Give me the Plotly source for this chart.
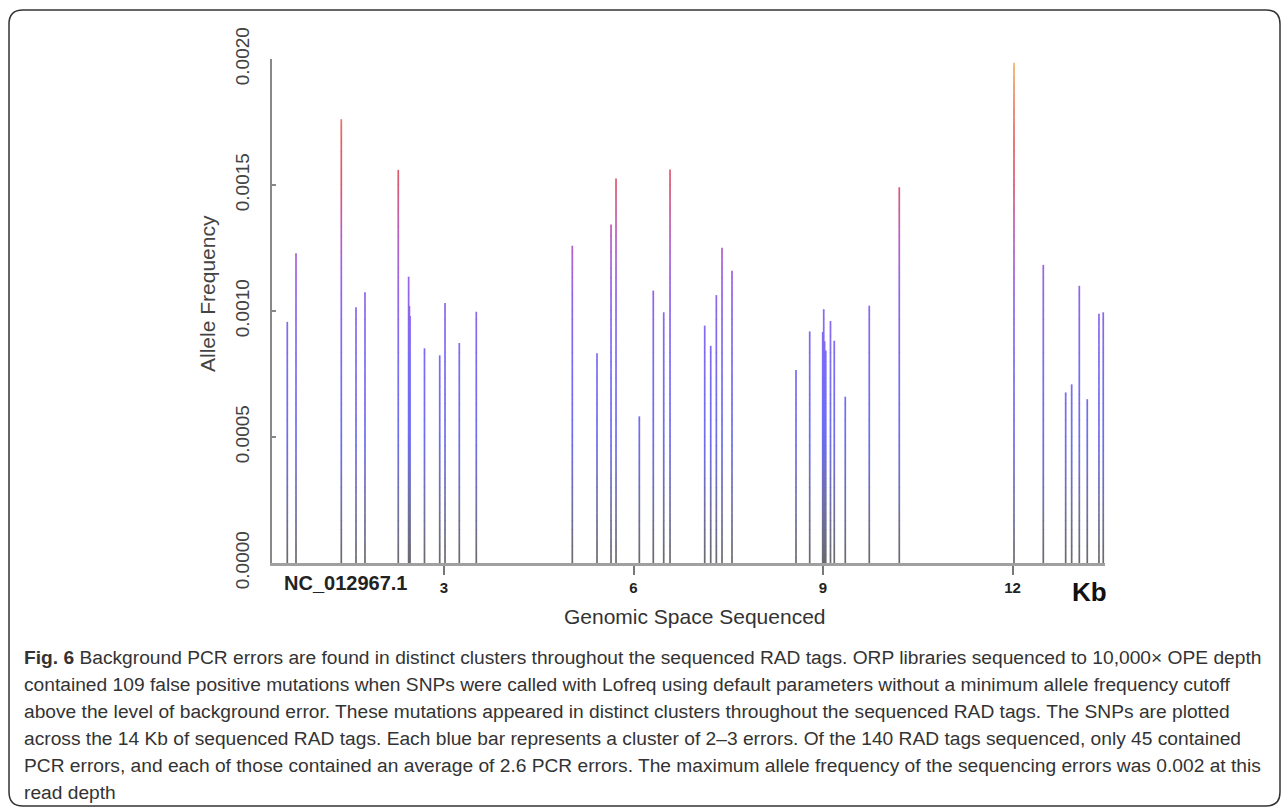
import plotly.graph_objects as go

# ---------------- data ----------------
positions_kb = [0.519, 0.657, 1.374, 1.607, 1.749, 2.276, 2.440, 2.452, 2.462, 2.691, 2.932, 3.016, 3.242, 3.511,
                5.031, 5.422, 5.644, 5.723, 6.092, 6.313, 6.478, 6.578, 7.127, 7.222, 7.311, 7.401, 7.559,
                8.572, 8.789, 8.995, 9.011, 9.025, 9.043, 9.118, 9.178, 9.352, 9.732, 10.207,
                12.023, 12.487, 12.841, 12.936, 13.057, 13.183, 13.368, 13.436]
allele_freq = [0.000957, 0.001229, 0.001761, 0.001015, 0.001074, 0.001560, 0.001136, 0.001020, 0.000980, 0.000852,
               0.000824, 0.001032, 0.000873, 0.000997,
               0.001259, 0.000832, 0.001343, 0.001526, 0.000582, 0.001081, 0.000995, 0.001562, 0.000942, 0.000862,
               0.001063, 0.001251, 0.001160,
               0.000766, 0.000919, 0.000917, 0.001007, 0.000880, 0.000843, 0.000960, 0.000882, 0.000660, 0.001021,
               0.001491,
               0.001985, 0.001183, 0.000677, 0.000709, 0.001100, 0.000650, 0.000989, 0.000995]
x_tick_vals = [3, 6, 9, 12]
x_tick_text = ["3", "6", "9", "12"]
y_tick_vals = [0.0, 0.0005, 0.0010, 0.0015, 0.0020]
y_tick_text = ["0.0000", "0.0005", "0.0010", "0.0015", "0.0020"]

caption_lines = [
    "<b>Fig. 6</b> Background PCR errors are found in distinct clusters throughout the sequenced RAD tags. ORP libraries sequenced to 10,000× OPE depth",
    "contained 109 false positive mutations when SNPs were called with Lofreq using default parameters without a minimum allele frequency cutoff",
    "above the level of background error. These mutations appeared in distinct clusters throughout the sequenced RAD tags. The SNPs are plotted",
    "across the 14 Kb of sequenced RAD tags. Each blue bar represents a cluster of 2–3 errors. Of the 140 RAD tags sequenced, only 45 contained",
    "PCR errors, and each of those contained an average of 2.6 PCR errors. The maximum allele frequency of the sequencing errors was 0.002 at this",
    "read depth",
]

# ---------------- geometry (pixels) ----------------
W, H = 1284, 810
PL, PR, PT, PB = 272, 1105, 59, 563
X0, X1 = (PL - 254.5) / 63.17, (PR - 254.5) / 63.17
Y0, Y1 = 0.0, 0.0020


def pxx(px):
    return (px - PL) / (PR - PL)


def pyy(py):
    return (PB - py) / (PB - PT)


# colour gradient along the frequency axis
stops = [(0.0000, (105, 105, 110)), (0.0002, (112, 112, 160)), (0.0005, (110, 110, 240)),
         (0.0008, (122, 108, 245)), (0.0011, (150, 100, 232)), (0.0013, (185, 95, 195)),
         (0.0015, (218, 88, 115)), (0.0017, (230, 100, 100)), (0.0019, (240, 150, 100)),
         (0.0020, (246, 182, 100))]


def col(v):
    for (a, ca), (b, cb) in zip(stops[:-1], stops[1:]):
        if v <= b:
            t = (v - a) / (b - a)
            c = [round(ca[i] + t * (cb[i] - ca[i])) for i in range(3)]
            return "rgb(%d,%d,%d)" % tuple(c)
    return "rgb(%d,%d,%d)" % stops[-1][1]


fig = go.Figure()
N = 60
dy = (Y1 - Y0) / N
for k in range(N):
    lo = Y0 + k * dy
    hi = lo + dy
    xs, ys = [], []
    for p, v in zip(positions_kb, allele_freq):
        if v > lo:
            xs += [p, p, None]
            ys += [lo, min(v, hi + dy * 0.05), None]
    if xs:
        fig.add_trace(go.Scatter(x=xs, y=ys, mode="lines",
                                 line=dict(color=col((lo + hi) / 2), width=1.7),
                                 hoverinfo="skip", showlegend=False))

fig.update_xaxes(range=[X0, X1], showgrid=False, zeroline=False, showline=True,
                 linecolor="#a0a0a0", linewidth=3, ticks="outside", ticklen=9, tickwidth=1.5,
                 tickcolor="#777", tickvals=x_tick_vals, ticktext=x_tick_text,
                 tickfont=dict(family="Liberation Sans, Arial", size=15, color="#222", weight="bold"))
fig.update_yaxes(range=[Y0, Y1], showgrid=False, zeroline=False, showline=True,
                 linecolor="#888", linewidth=1.5, ticks="inside", ticklen=4, tickwidth=1.5,
                 tickcolor="#888", tickvals=y_tick_vals, ticktext=y_tick_text, tickangle=-90,
                 ticklabelstandoff=14,
                 tickfont=dict(family="Liberation Sans, Arial", size=19, color="#444"))

SANS = "Liberation Sans, Arial"
ann = []
ann.append(dict(x=pxx(207), y=pyy(294), xref="paper", yref="paper", text="Allele Frequency",
                textangle=-90, showarrow=False, xanchor="center", yanchor="middle",
                font=dict(family=SANS, size=21, color="#444")))
ann.append(dict(x=pxx(695), y=pyy(616), xref="paper", yref="paper", text="Genomic Space Sequenced",
                showarrow=False, xanchor="center", yanchor="middle",
                font=dict(family=SANS, size=21, color="#333")))
ann.append(dict(x=pxx(345), y=pyy(583), xref="paper", yref="paper", text="<b>NC_012967.1</b>",
                showarrow=False, xanchor="center", yanchor="middle",
                font=dict(family=SANS, size=20, color="#222")))
ann.append(dict(x=pxx(1089), y=pyy(592), xref="paper", yref="paper", text="<b>Kb</b>",
                showarrow=False, xanchor="center", yanchor="middle",
                font=dict(family=SANS, size=26, color="#111")))
line_y = [657, 684, 711, 738, 765, 792]
for t, yy in zip(caption_lines, line_y):
    ann.append(dict(x=pxx(22), y=pyy(yy), xref="paper", yref="paper", text=t, showarrow=False,
                    xanchor="left", yanchor="middle",
                    font=dict(family=SANS, size=19.2, color="#333")))

# rounded frame around figure + caption
fx0, fx1, fy0, fy1 = 9, 1280, 10, 806
r = 14
path = (f"M {pxx(fx0+r)},{pyy(fy0)} L {pxx(fx1-r)},{pyy(fy0)} Q {pxx(fx1)},{pyy(fy0)} {pxx(fx1)},{pyy(fy0+r)} "
        f"L {pxx(fx1)},{pyy(fy1-r)} Q {pxx(fx1)},{pyy(fy1)} {pxx(fx1-r)},{pyy(fy1)} "
        f"L {pxx(fx0+r)},{pyy(fy1)} Q {pxx(fx0)},{pyy(fy1)} {pxx(fx0)},{pyy(fy1-r)} "
        f"L {pxx(fx0)},{pyy(fy0+r)} Q {pxx(fx0)},{pyy(fy0)} {pxx(fx0+r)},{pyy(fy0)} Z")
fig.add_shape(type="path", path=path, xref="paper", yref="paper",
              line=dict(color="#333", width=1.5), fillcolor="rgba(0,0,0,0)", layer="below")

fig.update_layout(width=W, height=H, autosize=False,
                  margin=dict(l=PL, r=W - PR, t=PT, b=H - PB, pad=0),
                  paper_bgcolor="white", plot_bgcolor="white",
                  annotations=ann, showlegend=False)

fig.write_html("out.html")
